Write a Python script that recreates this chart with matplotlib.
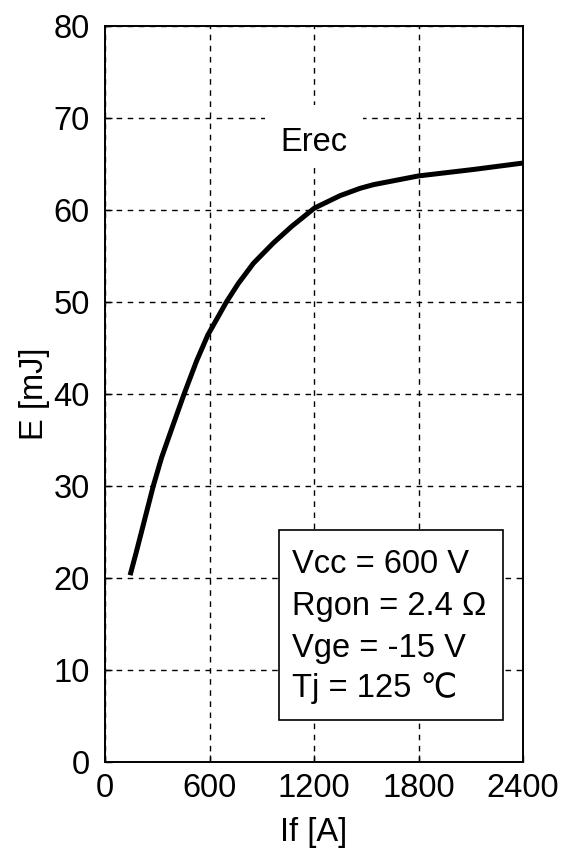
import matplotlib
matplotlib.use("Agg")
import matplotlib.pyplot as plt
from matplotlib.patches import Rectangle

plt.rcParams["font.family"] = ["Liberation Sans", "DejaVu Sans"]

# Erec recovery energy vs forward current
current_a = [144, 178, 216, 277, 325, 392, 454, 526, 590, 697, 765, 852, 966,
             1071, 1202, 1349, 1464, 1541, 1800, 2115, 2400]
erec_mj = [20.3, 22.7, 25.5, 30.0, 33.1, 36.7, 40.0, 43.6, 46.4, 50.0, 52.0,
           54.2, 56.4, 58.2, 60.2, 61.55, 62.35, 62.75, 63.7, 64.4, 65.1]

x_ticks = [0, 600, 1200, 1800, 2400]
y_ticks = [0, 10, 20, 30, 40, 50, 60, 70, 80]
conditions = ["Vcc = 600 V", "Rgon = 2.4 Ω", "Vge = -15 V", "Tj = 125 ℃"]

fs = 23.5

fig = plt.figure(figsize=(5.68, 8.51), dpi=100)
ax = fig.add_axes([0.1849, 0.1046, 0.7359, 0.8649])

ax.plot(current_a, erec_mj, color="black", linewidth=3.6, solid_capstyle="butt", zorder=3)

ax.set_xlim(0, 2400)
ax.set_ylim(0, 80)
ax.set_xticks(x_ticks)
ax.set_yticks(y_ticks)
ax.tick_params(axis="y", direction="in", length=5, width=1, labelsize=fs, pad=11)
ax.tick_params(axis="x", direction="in", length=5, width=1, labelsize=fs, pad=8)
ax.grid(True, color="black", linestyle=(0, (4, 4)), linewidth=1)
for spine in ax.spines.values():
    spine.set_linewidth(1.4)

ax.set_xlabel("If [A]", fontsize=fs, labelpad=9)
ax.set_ylabel("E [mJ]", fontsize=fs, labelpad=2.5)

# curve label on a white patch that hides the grid behind it
ax.add_patch(Rectangle((919, 64.56), 562, 6.85, facecolor="white",
                       edgecolor="none", zorder=2.5))
ax.text(1200, 67.3, "Erec", fontsize=fs, ha="center", va="center", zorder=4)

# operating conditions box
ax.add_patch(Rectangle((999, 4.6), 1286, 20.6, facecolor="white",
                       edgecolor="black", linewidth=1.2, zorder=4))
line_y = [20.54, 15.98, 11.41, 7.06]
for txt, yy in zip(conditions, line_y):
    ax.text(1074, yy, txt, fontsize=fs, ha="left", va="baseline", zorder=5)

fig.savefig("out.png", dpi=100)
